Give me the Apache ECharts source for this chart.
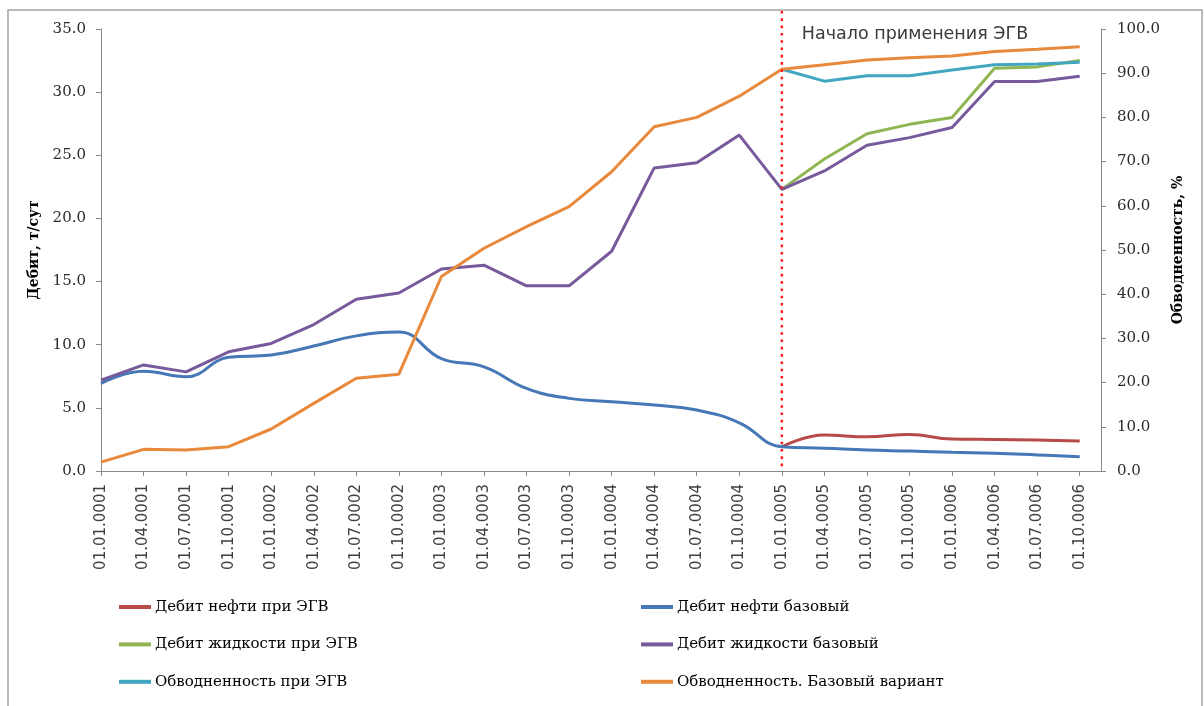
<!DOCTYPE html>
<html>
<head>
<meta charset="utf-8">
<script src="https://cdn.jsdelivr.net/npm/echarts@6/dist/echarts.min.js"></script>
<style>
  html, body { margin: 0; padding: 0; background: #ffffff; }
  #chart { width: 1204px; height: 706px; }
</style>
</head>
<body>
<div id="chart"></div>
<script>
// Quarterly dates
const categories = [
  '01.01.0001', '01.04.0001', '01.07.0001', '01.10.0001',
  '01.01.0002', '01.04.0002', '01.07.0002', '01.10.0002',
  '01.01.0003', '01.04.0003', '01.07.0003', '01.10.0003',
  '01.01.0004', '01.04.0004', '01.07.0004', '01.10.0004',
  '01.01.0005', '01.04.0005', '01.07.0005', '01.10.0005',
  '01.01.0006', '01.04.0006', '01.07.0006', '01.10.0006'
];

// Base case, whole period
const oilBase = [6.94, 7.9, 7.46, 9.0, 9.18, 9.9, 10.7, 11.0, 8.9, 8.25, 6.54, 5.75,
                 5.48, 5.22, 4.83, 3.82, 1.92, 1.8, 1.66, 1.58, 1.48, 1.4, 1.27, 1.13];
const liquidBase = [7.2, 8.4, 7.85, 9.44, 10.1, 11.6, 13.6, 14.1, 16.0, 16.3, 14.66, 14.66,
                    17.4, 24.0, 24.4, 26.6, 22.3, 23.76, 25.8, 26.4, 27.2, 30.85, 30.85, 31.25];
const waterCutBase = [2.0, 4.9, 4.75, 5.5, 9.5, 15.3, 21.0, 21.9, 44.0, 50.4, 55.3, 59.8,
                      67.7, 77.9, 80.0, 84.8, 90.9, 91.9, 93.0, 93.5, 93.9, 94.9, 95.4, 96.0];

// With ЭГВ, starting from the first quarter of year 5
const egvStart = 16;
const oilEgv = [1.92, 2.85, 2.71, 2.9, 2.53, 2.5, 2.45, 2.37];
const liquidEgv = [22.3, 24.7, 26.7, 27.45, 28.0, 31.9, 32.0, 32.5];
const waterCutEgv = [90.9, 88.2, 89.4, 89.4, 90.7, 91.9, 92.1, 92.5];

// Left axis ticks (т/сут) and right axis ticks (%)
const leftTicks = { min: 0, max: 35, step: 5 };
const rightTicks = { min: 0, max: 100, step: 10 };

const names = {
  oilEgv: 'Дебит нефти при ЭГВ',
  oilBase: 'Дебит нефти базовый',
  liquidEgv: 'Дебит жидкости при ЭГВ',
  liquidBase: 'Дебит жидкости базовый',
  waterEgv: 'Обводненность при ЭГВ',
  waterBase: 'Обводненность. Базовый вариант'
};

const colors = {
  red: '#b84a47',
  blue: '#4677b6',
  green: '#90b653',
  purple: '#775a9b',
  teal: '#42a6c0',
  orange: '#e8893b'
};

const fromStart = arr => arr.map((v, i) => [i, v]);
const fromEgv = arr => arr.map((v, i) => [egvStart + i, v]);
const tickIdx = categories.map((c, i) => i);

const serifFont = 'DejaVu Serif';
const sansFont = 'DejaVu Sans';
const axisGray = '#898989';

function lineSeries(name, data, color, yAxisIndex, smooth) {
  return {
    name, type: 'line', data, yAxisIndex,
    smooth: smooth ? 0.45 : false,
    symbol: 'none', showSymbol: false,
    lineStyle: { color, width: 3 },
    itemStyle: { color },
    emphasis: { disabled: true }
  };
}

const legendCommon = {
  orient: 'vertical',
  icon: 'rect',
  padding: 0,
  itemWidth: 32,
  itemHeight: 4,
  itemGap: 17.4,
  selectedMode: false,
  textStyle: { fontFamily: serifFont, fontSize: 15, color: '#000', lineHeight: 20, padding: [0, 0, 0, -1] }
};

const chart = echarts.init(document.getElementById('chart'), null, { renderer: 'canvas' });

const option = {
  animation: false,
  backgroundColor: '#ffffff',
  grid: { left: 101, right: 103, top: 29, bottom: 235 },
  legend: [
    Object.assign({}, legendCommon, { left: 119, top: 597, data: [names.oilEgv, names.liquidEgv, names.waterEgv] }),
    Object.assign({}, legendCommon, { left: 641, top: 597, data: [names.oilBase, names.liquidBase, names.waterBase] })
  ],
  xAxis: {
    type: 'value',
    min: 0,
    max: categories.length - 0.5,
    interval: 1,
    splitLine: { show: false },
    axisLine: { show: true, onZero: false, lineStyle: { color: axisGray, width: 1 } },
    axisTick: { show: true, length: 5, customValues: tickIdx, lineStyle: { color: axisGray } },
    axisLabel: {
      customValues: tickIdx,
      rotate: 90,
      margin: 13,
      formatter: v => categories[Math.round(v)] || '',
      fontFamily: sansFont, fontSize: 15, color: '#404040'
    }
  },
  yAxis: [
    {
      type: 'value', position: 'left',
      min: leftTicks.min, max: leftTicks.max, interval: leftTicks.step,
      name: 'Дебит, т/сут',
      nameLocation: 'middle', nameRotate: 90, nameGap: 55,
      nameTextStyle: { fontFamily: serifFont, fontWeight: 'bold', fontSize: 14, color: '#000' },
      splitLine: { show: false },
      axisLine: { show: true, lineStyle: { color: axisGray, width: 1 } },
      axisTick: { show: true, length: 5, lineStyle: { color: axisGray } },
      axisLabel: { margin: 15, formatter: v => v.toFixed(1), fontFamily: serifFont, fontSize: 15, color: '#2b2b2b' }
    },
    {
      type: 'value', position: 'right',
      min: rightTicks.min, max: rightTicks.max, interval: rightTicks.step,
      name: 'Обводненность, %',
      nameLocation: 'middle', nameRotate: 90, nameGap: 70,
      nameTextStyle: { fontFamily: serifFont, fontWeight: 'bold', fontSize: 14, color: '#000' },
      splitLine: { show: false },
      axisLine: { show: true, lineStyle: { color: axisGray, width: 1 } },
      axisTick: { show: true, length: 5, lineStyle: { color: axisGray } },
      axisLabel: { margin: 16, formatter: v => v.toFixed(1), fontFamily: serifFont, fontSize: 15, color: '#2b2b2b' }
    }
  ],
  series: [
    lineSeries(names.oilEgv, fromEgv(oilEgv), colors.red, 0, true),
    lineSeries(names.oilBase, fromStart(oilBase), colors.blue, 0, true),
    lineSeries(names.liquidEgv, fromEgv(liquidEgv), colors.green, 0, false),
    lineSeries(names.liquidBase, fromStart(liquidBase), colors.purple, 0, false),
    lineSeries(names.waterEgv, fromEgv(waterCutEgv), colors.teal, 1, false),
    lineSeries(names.waterBase, fromStart(waterCutBase), colors.orange, 1, false)
  ]
};

chart.setOption(option);

// Marker of the start of ЭГВ and the outer frame, placed through the axis scales
const markX = chart.convertToPixel({ xAxisIndex: 0 }, egvStart);
const baseY = chart.convertToPixel({ yAxisIndex: 0 }, 0);

chart.setOption({
  graphic: [
    {
      type: 'rect', z: 0, silent: true,
      shape: { x: 8, y: 10, width: 1194, height: 720 },
      style: { fill: 'none', stroke: '#a3a3a3', lineWidth: 1.5 }
    },
    {
      type: 'line', z: 100, silent: true,
      shape: { x1: markX, y1: 11, x2: markX, y2: baseY - 1 },
      style: { stroke: '#ff1a1a', lineWidth: 2.5, lineDash: [2.6, 4.7] }
    },
    {
      type: 'text', z: 100, silent: true,
      x: markX + 20, y: 34,
      style: {
        text: 'Начало применения ЭГВ',
        font: '17.5px "DejaVu Sans"',
        fill: '#3a3a3a',
        verticalAlign: 'middle'
      }
    }
  ]
});
</script>
</body>
</html>
